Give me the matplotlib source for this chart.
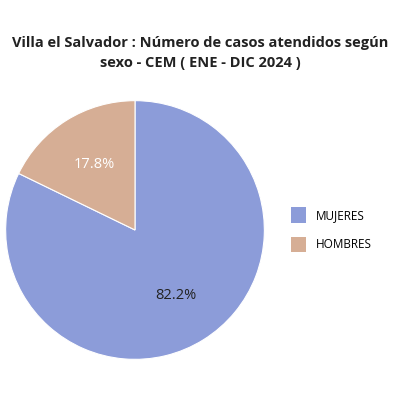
import matplotlib
matplotlib.use("Agg")
import matplotlib.pyplot as plt
from matplotlib.patches import Patch

labels = ["MUJERES", "HOMBRES"]
values = [82.2, 17.8]
colors = ["#8C9CD9", "#D6AE95"]
text_colors = ["#222222", "white"]

plt.rcParams['font.family'] = ['Open Sans', 'DejaVu Sans']
fig = plt.figure(figsize=(4, 4), dpi=100)
fig.text(0.5, 0.867, "Villa el Salvador : Número de casos atendidos según\nsexo - CEM ( ENE - DIC 2024 )",
         ha="center", va="center", fontsize=10.5, fontweight="bold", color="#222222", linespacing=1.5)
ax = fig.add_axes([0.0125, 0.1, 0.65, 0.65])
wedges, texts, autotexts = ax.pie(values, colors=colors, startangle=90, counterclock=False,
                                  autopct="%.1f%%", pctdistance=0.6,
                                  wedgeprops=dict(linewidth=0.8, edgecolor="white"),
                                  textprops=dict(fontsize=10.5))
for t, c in zip(autotexts, text_colors):
    t.set_color(c)
ax.set_aspect("equal")
ax.set_xlim(-1.005, 1.005)
ax.set_ylim(-1.005, 1.005)
fig.legend(handles=[Patch(facecolor=c, label=l) for c, l in zip(colors, labels)],
           loc="center left", bbox_to_anchor=(0.7, 0.426), frameon=False,
           fontsize=8.5, handlelength=1.3, handleheight=1.6, labelspacing=1.2)
fig.savefig("out.png", dpi=100)
